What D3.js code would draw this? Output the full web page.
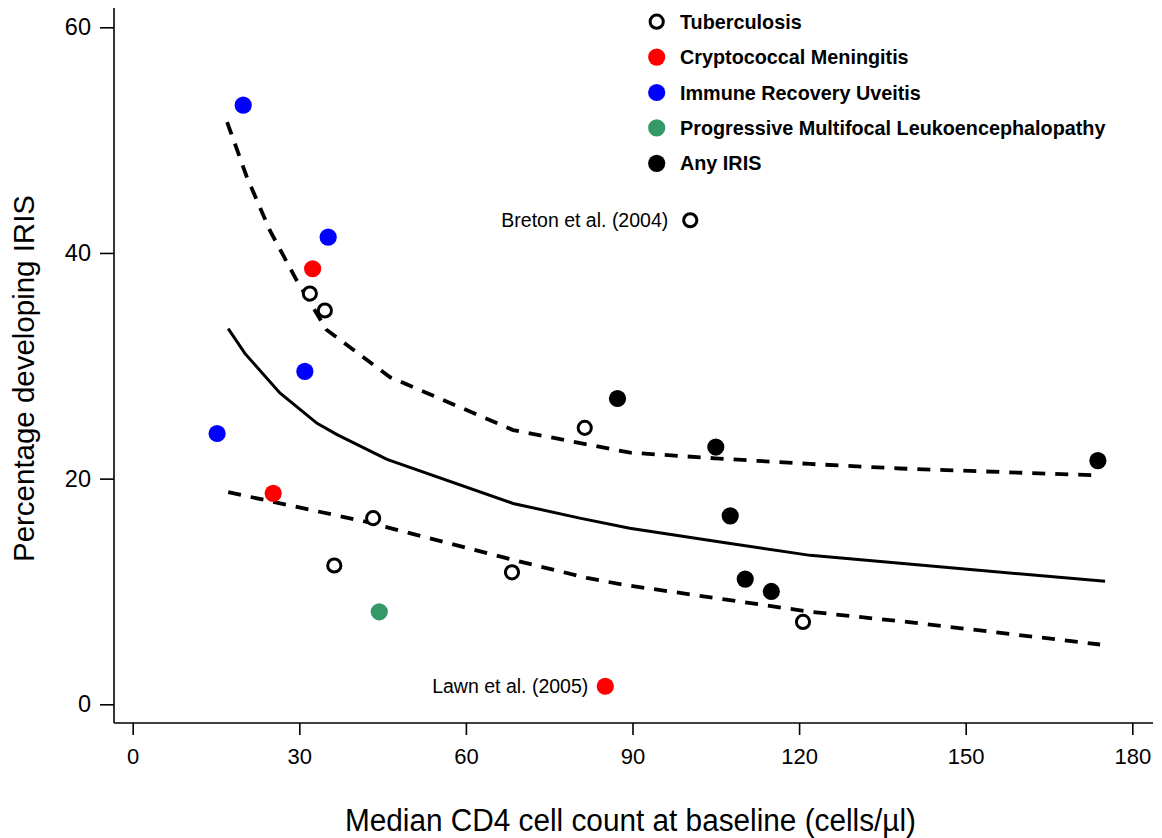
<!DOCTYPE html>
<html>
<head>
<meta charset="utf-8">
<script src="https://cdn.jsdelivr.net/npm/d3@7"></script>
<style>
  html, body { margin: 0; padding: 0; background: #fff; }
  svg { display: block; }
</style>
</head>
<body>
<svg id="chart" width="1162" height="838"></svg>
<script>
// ---------- DATA ----------
const xTicks = [0, 30, 60, 90, 120, 150, 180];
const yTicks = [0, 20, 40, 60];

const categories = ["Tuberculosis", "Cryptococcal Meningitis", "Immune Recovery Uveitis",
                    "Progressive Multifocal Leukoencephalopathy", "Any IRIS"];
const categoryColors = ["none", "#ff0000", "#0000ff", "#339966", "#000000"];

// [CD4 median, % developing IRIS]
const tuberculosis = [[31.9, 36.4], [34.6, 34.9], [36.3, 12.3], [43.3, 16.5],
                      [68.3, 11.7], [81.4, 24.5], [100.4, 42.9], [120.7, 7.3]];
const cryptococcal = [[32.4, 38.6], [25.3, 18.7], [85.1, 1.6]];
const uveitis = [[19.9, 53.1], [35.2, 41.4], [31.0, 29.5], [15.2, 24.0]];
const pml = [[44.4, 8.2]];
const anyIris = [[87.3, 27.1], [105.0, 22.8], [107.6, 16.7], [110.3, 11.1],
                 [115.0, 10.0], [173.8, 21.6]];

const fitLine = [[17.2, 33.3], [20.2, 31.1], [26.5, 27.6], [33.2, 24.9], [36.8, 23.9],
                 [45.8, 21.7], [68.5, 17.8], [80.5, 16.5], [89.5, 15.6], [107.0, 14.3],
                 [122.0, 13.2], [138.2, 12.5], [175.1, 10.9]];
const upperBand = [[17.0, 51.6], [20.5, 46.8], [24.7, 42.0], [29.5, 37.6], [34.9, 33.2],
                   [46.3, 29.0], [68.5, 24.3], [89.6, 22.3], [104.9, 21.8], [122.0, 21.3],
                   [138.2, 20.9], [173.0, 20.3]];
const lowerBand = [[17.2, 18.8], [41.8, 16.2], [68.5, 12.8], [81.8, 11.2], [88.3, 10.6],
                   [122.0, 8.2], [139.4, 7.3], [174.2, 5.3]];

const annotations = [
  { label: "Breton et al. (2004)", point: [100.4, 42.9] },
  { label: "Lawn et al. (2005)", point: [85.1, 1.6] }
];

// ---------- CHART ----------
const svg = d3.select("#chart");
const FONT = "'Liberation Sans', Arial, Helvetica, sans-serif";

const x = d3.scaleLinear().domain([0, 180]).range([132.7, 1132.3]);
const y = d3.scaleLinear().domain([0, 60]).range([704.3, 27.3]);

const axisX0 = 114, axisY0 = 723;

// axis frame lines
svg.append("line").attr("x1", axisX0).attr("x2", axisX0).attr("y1", 8).attr("y2", axisY0)
  .attr("stroke", "#000").attr("stroke-width", 1.6);
svg.append("line").attr("x1", axisX0).attr("x2", 1153).attr("y1", axisY0).attr("y2", axisY0)
  .attr("stroke", "#000").attr("stroke-width", 1.6);

// y axis ticks
const gy = svg.append("g").attr("transform", `translate(${axisX0},0)`)
  .call(d3.axisLeft(y).tickValues(yTicks).tickSize(14).tickPadding(9).tickFormat(d3.format("d")));
gy.select(".domain").remove();
gy.selectAll(".tick line").attr("stroke", "#000").attr("stroke-width", 1.6);
gy.selectAll(".tick text").attr("font-family", FONT).attr("font-size", 23.5).attr("fill", "#000");

// x axis ticks
const gx = svg.append("g").attr("transform", `translate(0,${axisY0})`)
  .call(d3.axisBottom(x).tickValues(xTicks).tickSize(12).tickPadding(13).tickFormat(d3.format("d")));
gx.select(".domain").remove();
gx.selectAll(".tick line").attr("stroke", "#000").attr("stroke-width", 1.6);
gx.selectAll(".tick text").attr("font-family", FONT).attr("font-size", 22).attr("fill", "#000");

// axis titles
svg.append("text")
  .attr("x", x(90) - 2).attr("y", 831)
  .attr("text-anchor", "middle")
  .attr("font-family", FONT).attr("font-size", 31)
  .attr("textLength", 571).attr("lengthAdjust", "spacingAndGlyphs")
  .text("Median CD4 cell count at baseline (cells/µl)");

svg.append("text")
  .attr("transform", "translate(34,378.5) rotate(-90)")
  .attr("text-anchor", "middle")
  .attr("font-family", FONT).attr("font-size", 29)
  .attr("textLength", 367).attr("lengthAdjust", "spacingAndGlyphs")
  .text("Percentage developing IRIS");

// curves
const line = d3.line().x(d => x(d[0])).y(d => y(d[1]));
svg.append("path").datum(fitLine).attr("d", line)
  .attr("fill", "none").attr("stroke", "#000").attr("stroke-width", 3);
[upperBand, lowerBand].forEach(band => {
  svg.append("path").datum(band).attr("d", line)
    .attr("fill", "none").attr("stroke", "#000").attr("stroke-width", 3.8)
    .attr("stroke-dasharray", "13,10");
});

// points
const filledSets = [
  { data: cryptococcal, color: categoryColors[1] },
  { data: uveitis, color: categoryColors[2] },
  { data: pml, color: categoryColors[3] },
  { data: anyIris, color: categoryColors[4] }
];
svg.append("g").selectAll("circle").data(tuberculosis).join("circle")
  .attr("cx", d => x(d[0])).attr("cy", d => y(d[1])).attr("r", 6.6)
  .attr("fill", "#fff").attr("stroke", "#000").attr("stroke-width", 3);
filledSets.forEach(s => {
  svg.append("g").selectAll("circle").data(s.data).join("circle")
    .attr("cx", d => x(d[0])).attr("cy", d => y(d[1])).attr("r", 8.6)
    .attr("fill", s.color);
});

// annotations
const annoDx = [22, 17];
annotations.forEach((a, i) => {
  svg.append("text")
    .attr("x", x(a.point[0]) - annoDx[i]).attr("y", y(a.point[1]) + 7)
    .attr("text-anchor", "end")
    .attr("font-family", FONT).attr("font-size", 19.5)
    .text(a.label);
});

// legend
const legend = svg.append("g");
categories.forEach((c, i) => {
  const cy = 21.7 + i * 35.4;
  if (categoryColors[i] === "none") {
    legend.append("circle").attr("cx", 656.7).attr("cy", cy).attr("r", 6.6)
      .attr("fill", "#fff").attr("stroke", "#000").attr("stroke-width", 3);
  } else {
    legend.append("circle").attr("cx", 656.7).attr("cy", cy).attr("r", 8.6)
      .attr("fill", categoryColors[i]);
  }
  legend.append("text").attr("x", 680).attr("y", cy + 7)
    .attr("font-family", FONT).attr("font-size", 19.8).attr("font-weight", "bold")
    .text(c);
});
</script>
</body>
</html>
